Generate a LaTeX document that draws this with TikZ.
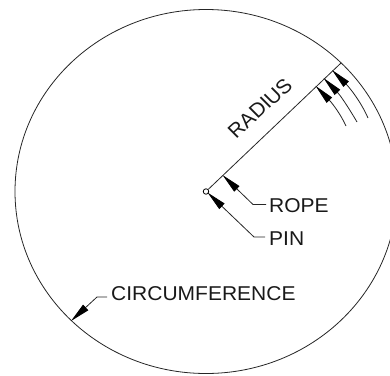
\documentclass[tikz,border=0pt]{standalone}
\usepackage{fontspec}
\setmainfont{Liberation Sans}
\usetikzlibrary{arrows.meta}
\tikzset{
  leader/.style={line width=0.8pt,black!85},
  arrowed/.style={leader,{Triangle[length=20pt,width=7.5pt,black]}-},
  lab/.style={font=\fontsize{20}{20}\selectfont,inner sep=0pt,text=black!90,xscale=1.05,transform shape},
}
\begin{document}
\begin{tikzpicture}[x=1pt,y=-1pt]
\useasboundingbox (0,0) rectangle (390,375);
\clip (0,0) rectangle (390,375);
\draw[leader] (206,191.5) ellipse [x radius=191,y radius=182];
\node[draw,circle,line width=0.8pt,minimum size=5.5pt,inner sep=0pt] (pin) at (206,191.5) {};
\coordinate (rimpt) at (341,63);
\draw[leader] (pin) -- (rimpt);
\coordinate (t1) at (315.5,85.8);
\coordinate (t2) at (323.5,78);
\coordinate (t3) at (332,70);
\coordinate (e1) at (346,126);
\coordinate (e2) at (357,122);
\coordinate (e3) at (368,118);
\draw[arrowed] (t1) .. controls (333,104) and (341,115) .. (e1);
\draw[arrowed] (t2) .. controls (341,96) and (350,110) .. (e2);
\draw[arrowed] (t3) .. controls (350,88) and (361,102) .. (e3);
\node[lab,rotate=43.5] (radius) at (260,108) {RADIUS};
\node[lab,anchor=west] (rope) at (269,206) {ROPE};
\node[lab,anchor=west] (pinlab) at (269,239) {PIN};
\node[lab,anchor=west] (circ) at (111,294) {CIRCUMFERENCE};
\coordinate (tr) at (222.5,175);
\coordinate (br) at (253,204.5);
\coordinate (er) at (266,204.5);
\coordinate (tp) at (207.5,192.5);
\coordinate (bp) at (254,237);
\coordinate (ep) at (265,237);
\coordinate (tc) at (71,321);
\coordinate (bc) at (97,297);
\coordinate (ec) at (107,297);
\draw[arrowed] (tr) -- (br) -- (er);
\draw[arrowed] (tp) -- (bp) -- (ep);
\draw[arrowed] (tc) -- (bc) -- (ec);
\end{tikzpicture}
\end{document}
